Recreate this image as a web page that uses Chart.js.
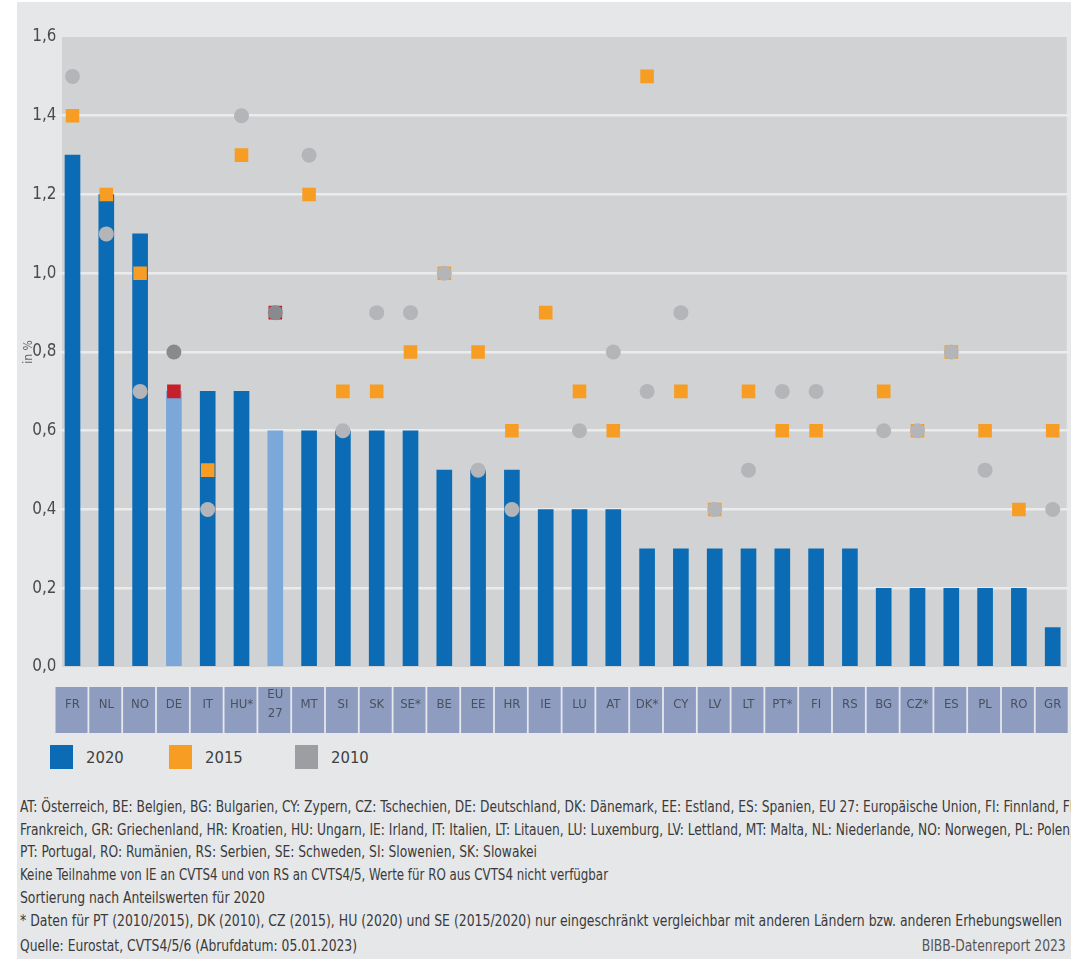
<!DOCTYPE html>
<html lang="de">
<head>
    <meta charset="UTF-8">
    <title>Weiterbildung im Ländervergleich</title>
    <script src="https://cdn.jsdelivr.net/npm/chart.js"></script>
    <style>
        html, body { margin: 0; padding: 0; background: #fff; overflow: hidden; }
        body { width: 1071px; height: 959px; position: relative; font-family: "DejaVu Sans Condensed", "DejaVu Sans", sans-serif; }
        #panel { position: absolute; left: 17px; top: 2px; width: 1054px; height: 957px; background: #e6e7e9; overflow: hidden; }
        #chartBox { position: absolute; left: 0; top: 0; width: 1054px; height: 733px; }
        .legend { position: absolute; top: 743px; left: 0; height: 24px; }
        .legend .item { position: absolute; top: 0; white-space: nowrap; }
        .legend .box { position: absolute; top: 0; width: 23px; height: 24px; }
        .legend .txt { position: absolute; top: 1px; left: 36px; font-size: 16.5px; line-height: 24px; color: #3f3f3f; }
        .notes { position: absolute; left: 3px; top: 794px; font-size: 16px; line-height: 22.7px; color: #3a3a3a; white-space: nowrap; }
        .notes span { display: inline-block; transform-origin: 0 0; }
        .source { position: absolute; left: 3px; top: 933px; font-size: 16px; line-height: 22px; color: #3a3a3a; white-space: nowrap; transform-origin: 0 0; }
        .brand { position: absolute; right: 5px; top: 933px; font-size: 16px; line-height: 22px; color: #555; white-space: nowrap; transform-origin: 100% 0; }
    </style>
</head>
<body>
<div id="panel">
    <div id="chartBox"><canvas id="chart" width="1054" height="733"></canvas></div>

    <div class="legend">
        <div class="item" style="left:33px"><div class="box" style="background:#0b6cb5"></div><div class="txt">2020</div></div>
        <div class="item" style="left:152px"><div class="box" style="background:#f79d23"></div><div class="txt">2015</div></div>
        <div class="item" style="left:278px"><div class="box" style="background:#9d9ea1"></div><div class="txt">2010</div></div>
    </div>

    <div class="notes">
        <span data-w="1062">AT: Österreich, BE: Belgien, BG: Bulgarien, CY: Zypern, CZ: Tschechien, DE: Deutschland, DK: Dänemark, EE: Estland, ES: Spanien, EU 27: Europäische Union, FI: Finnland, FR:</span><br>
        <span data-w="1054">Frankreich, GR: Griechenland, HR: Kroatien, HU: Ungarn, IE: Irland, IT: Italien, LT: Litauen, LU: Luxemburg, LV: Lettland, MT: Malta, NL: Niederlande, NO: Norwegen, PL: Polen,</span><br>
        <span data-w="517">PT: Portugal, RO: Rumänien, RS: Serbien, SE: Schweden, SI: Slowenien, SK: Slowakei</span><br>
        <span data-w="588">Keine Teilnahme von IE an CVTS4 und von RS an CVTS4/5, Werte für RO aus CVTS4 nicht verfügbar</span><br>
        <span data-w="245">Sortierung nach Anteilswerten für 2020</span><br>
        <span data-w="1042">* Daten für PT (2010/2015), DK (2010), CZ (2015), HU (2020) und SE (2015/2020) nur eingeschränkt vergleichbar mit anderen Ländern bzw. anderen Erhebungswellen</span>
    </div>
    <div class="source" data-w="337">Quelle: Eurostat, CVTS4/5/6 (Abrufdatum: 05.01.2023)</div>
    <div class="brand" data-w="144">BIBB-Datenreport 2023</div>
</div>

<script>
// Länder, sortiert nach Anteil 2020
const categories = ['FR', 'NL', 'NO', 'DE', 'IT', 'HU*', ['EU', '27'], 'MT', 'SI', 'SK', 'SE*', 'BE', 'EE', 'HR', 'IE',
    'LU', 'AT', 'DK*', 'CY', 'LV', 'LT', 'PT*', 'FI', 'RS', 'BG', 'CZ*', 'ES', 'PL', 'RO', 'GR'];
const highlighted = ['DE', 'EU 27'];

// Anteile in %
const values2020 = [1.3, 1.2, 1.1, 0.7, 0.7, 0.7, 0.6, 0.6, 0.6, 0.6, 0.6, 0.5, 0.5, 0.5, 0.4,
    0.4, 0.4, 0.3, 0.3, 0.3, 0.3, 0.3, 0.3, 0.3, 0.2, 0.2, 0.2, 0.2, 0.2, 0.1];
const values2015 = [1.4, 1.2, 1.0, 0.7, 0.5, 1.3, 0.9, 1.2, 0.7, 0.7, 0.8, 1.0, 0.8, 0.6, 0.9,
    0.7, 0.6, 1.5, 0.7, 0.4, 0.7, 0.6, 0.6, null, 0.7, 0.6, 0.8, 0.6, 0.4, 0.6];
const values2010 = [1.5, 1.1, 0.7, 0.8, 0.4, 1.4, 0.9, 1.3, 0.6, 0.9, 0.9, 1.0, 0.5, 0.4, null,
    0.6, 0.8, 0.7, 0.9, 0.4, 0.5, 0.7, 0.7, null, 0.6, 0.6, 0.8, 0.5, null, 0.4];

const yTicks = [0, 0.2, 0.4, 0.6, 0.8, 1.0, 1.2, 1.4, 1.6];

const isHi = categories.map(c => highlighted.includes([].concat(c).join(' ')));
const blue = isHi.map(h => h ? '#7ba7d9' : '#0b6cb5');
const orange = isHi.map(h => h ? '#c6202c' : '#f79d23');
const grey = isHi.map(h => h ? '#898a8d' : '#b4b5b8');

const fontFam = '"DejaVu Sans Condensed", "DejaVu Sans", sans-serif';

// schmale Schrift nachbilden: jede Fußnotenzeile auf die Breite des Originals stauchen
document.querySelectorAll('[data-w]').forEach(el => {
    const k = Number(el.dataset.w) / el.getBoundingClientRect().width;
    el.style.transform = 'scaleX(' + k + ')';
});

// Hintergrund der Grafik und Kästchen hinter den Länderkürzeln
const backdrop = {
    id: 'backdrop',
    beforeDraw(chart) {
        const ctx = chart.ctx, a = chart.chartArea, x = chart.scales.x;
        const first = x.getPixelForValue(0), last = x.getPixelForValue(categories.length - 1);
        ctx.save();
        ctx.fillStyle = '#d1d2d4';
        ctx.fillRect(first - 10.5, a.top, last + 14 - (first - 10.5), a.bottom - a.top);
        ctx.fillStyle = '#8e9cc0';
        categories.forEach((c, i) => {
            const cx = x.getPixelForValue(i) - 1;
            ctx.fillRect(cx - 16, x.top + 20, 32, 46);
        });
        ctx.restore();
    }
};

new Chart(document.getElementById('chart'), {
    type: 'bar',
    data: {
        labels: categories,
        datasets: [
            {
                type: 'line',
                label: '2010',
                data: values2010,
                showLine: false,
                pointStyle: 'circle',
                pointRadius: 7.5,
                pointHoverRadius: 7.5,
                pointBorderWidth: 0,
                pointBackgroundColor: grey,
                order: 0
            },
            {
                type: 'line',
                label: '2015',
                data: values2015,
                showLine: false,
                pointStyle: 'rect',
                pointRadius: 9.6,
                pointHoverRadius: 9.6,
                pointBorderWidth: 0,
                pointBackgroundColor: orange,
                order: 1
            },
            {
                label: '2020',
                data: values2020,
                backgroundColor: blue,
                barThickness: 15,
                order: 2
            }
        ]
    },
    options: {
        responsive: false,
        animation: false,
        layout: { autoPadding: false, padding: { top: 35, right: 1.4, bottom: 0, left: 0 } },
        plugins: {
            legend: { display: false },
            tooltip: { enabled: false }
        },
        scales: {
            x: {
                offset: true,
                grid: { display: false, drawTicks: false },
                border: { display: false },
                ticks: {
                    autoSkip: false,
                    maxRotation: 0,
                    padding: 27.5,
                    crossAlign: 'center',
                    color: '#4a505c',
                    font: { family: fontFam, size: 13, lineHeight: 1.5 }
                },
                afterFit(scale) {
                    scale.height = 68;
                    scale.paddingLeft = 0;
                    scale.paddingRight = 0;
                }
            },
            y: {
                min: 0,
                max: 1.6,
                afterBuildTicks(scale) { scale.ticks = yTicks.map(v => ({ value: v })); },
                grid: {
                    drawTicks: false,
                    lineWidth: 2.6,
                    color: ctx => (ctx.tick && ctx.tick.value > 0 && ctx.tick.value < 1.6) ? '#ebebec' : 'rgba(0,0,0,0)'
                },
                border: { display: false },
                ticks: {
                    padding: -1,
                    color: '#4b4b4b',
                    font: { family: fontFam, size: 17 },
                    callback: v => Number(v).toFixed(1).replace('.', ',')
                },
                title: {
                    display: true,
                    text: 'in %',
                    color: '#666',
                    padding: { top: 5, bottom: 0 },
                    font: { family: fontFam, size: 12 }
                },
                afterFit(scale) { scale.width = 38.6; }
            }
        }
    },
    plugins: [backdrop]
});
</script>
</body>
</html>
